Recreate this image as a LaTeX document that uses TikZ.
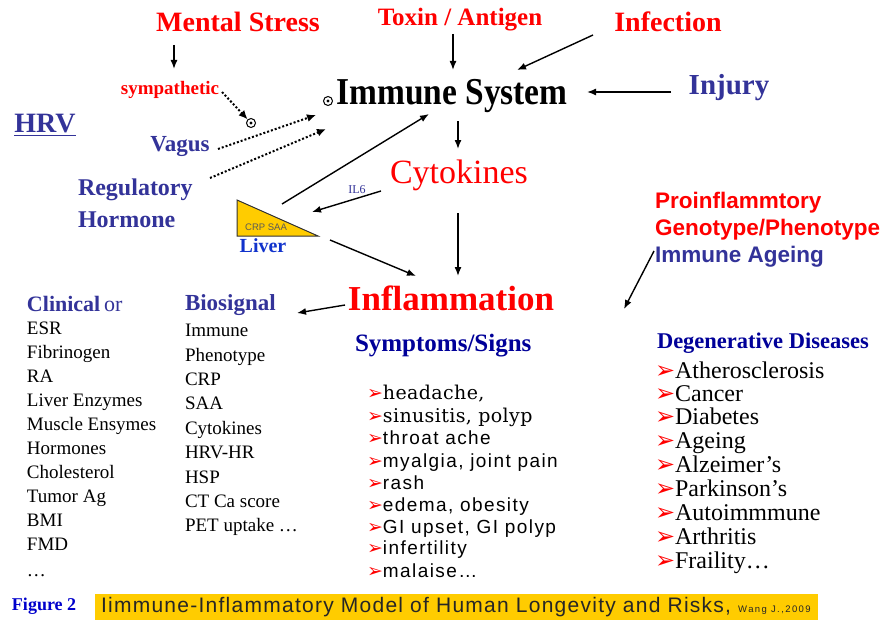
\documentclass[tikz,border=0pt]{standalone}
\usepackage{fontspec}
\usepackage{graphicx}
\setmainfont{Liberation Serif}
\newfontfamily\sansf{Liberation Sans}
\newfontfamily\sanssp[LetterSpace=7.5]{Liberation Sans}
\newfontfamily\serifsp[LetterSpace=2]{DejaVu Serif}
\newfontfamily\capf[LetterSpace=6]{Liberation Sans}
\newfontfamily\tinyf[LetterSpace=15]{Liberation Sans}
\newfontfamily\djsans{DejaVu Sans}
\usetikzlibrary{arrows.meta}
\definecolor{myred}{HTML}{FF0000}
\definecolor{myblue}{HTML}{333399}
\definecolor{dkblue}{HTML}{000099}
\definecolor{livblue}{HTML}{1133CC}
\definecolor{figblue}{HTML}{0000CC}
\definecolor{ylw}{HTML}{FFCC00}
\newcommand{\fs}[1]{\fontsize{#1}{#1}\selectfont}
\newcommand{\bul}{{\djsans\color{myred}➢}}
\begin{document}
\begin{tikzpicture}[x=1pt,y=-1pt,
  lbl/.style={inner sep=0pt, outer sep=1pt},
  arr/.style={-{Latex[length=9pt,width=7pt]}, line width=1.4pt},
  dotarr/.style={dotted, line width=2pt, -{Latex[length=9pt,width=8pt]}},
  redh/.style={lbl, text=myred, font=\bfseries\fs{28}},
  blueh/.style={lbl, text=myblue, font=\bfseries\fs{23}},
  item/.style={lbl, anchor=west, font=\fs{19}, text height=13pt, text depth=4pt},
  sym/.style={lbl, anchor=west, font=\sanssp\fs{19}, text height=14pt, text depth=4pt},
  symr/.style={lbl, anchor=west, font=\serifsp\fs{19}, text height=14pt, text depth=4pt},
  deg/.style={lbl, anchor=west, font=\fs{24}, text height=16pt, text depth=5pt},
  odot/.style={circle, draw, line width=1pt, inner sep=0pt, minimum size=9pt}
]
\useasboundingbox (0,0) rectangle (885,623);
\fill[white] (0,0) rectangle (885,623);

% top sources
\node[redh] (ms) at (238,22) {Mental Stress};
\node[redh, font=\bfseries\fs{25}] (tox) at (460,20) {Toxin / Antigen};
\node[redh] (inf) at (668,22) {Infection};
\node[lbl, font=\bfseries\fs{38}] (imm) at (452,96) {\scalebox{0.88}[1]{Immune System}};
\node[odot] (od1) at (328,101) {};
\fill (od1.center) circle (1.6pt);
\node[blueh, font=\bfseries\fs{29}] (inj) at (729,88) {Injury};
\node[blueh, font=\bfseries\fs{28}] (hrv) at (45,125) {\underline{HRV}};

\node[lbl, text=myred, font=\bfseries\fs{19}] (symp) at (170,90) {sympathetic};
\node[odot] (od2) at (251,123) {};
\fill (od2.center) circle (1.6pt);
\node[blueh] (vag) at (180,147) {Vagus};
\node[lbl, text=myblue, font=\bfseries\fs{24}, anchor=west] (reg1) at (77,190) {Regulatory};
\node[lbl, text=myblue, font=\bfseries\fs{24}, anchor=west] (reg2) at (77,220) {Hormone};

\node[lbl, text=myred, font=\fs{34}] (cyto) at (459,175) {Cytokines};
\node[lbl, text=myblue, font=\fs{12}] (il6) at (357,190) {IL6};

% liver
\draw[fill=ylw, draw=black!80, line width=1pt] (237,200) -- (237,236) -- (318,236) -- cycle;
\node[lbl, font=\sansf\fs{9.5}, text=black!65] (crp) at (266,227) {CRP SAA};
\coordinate (livtop) at (282,204);
\coordinate (livin) at (312,212);
\coordinate (livout) at (330,240);
\node[lbl, text=livblue, font=\bfseries\fs{20}] (liver) at (263,246) {Liver};

\node[lbl, text=myred, font=\bfseries\fs{35}] (infl) at (451,298) {Inflammation};

\node[lbl, text=myred, font=\sansf\bfseries\fs{22.5}, anchor=west] (pro1) at (654,203) {Proinflammtory};
\node[lbl, text=myred, font=\sansf\bfseries\fs{22.5}, anchor=west] (pro2) at (654,230) {Genotype/Phenotype};
\node[lbl, text=myblue, font=\sansf\bfseries\fs{22.5}, anchor=west] (age) at (654,257) {Immune Ageing};

% clinical
\node[lbl, anchor=west, text=myblue, font=\fs{22}] (clin) at (26,304) {\textbf{Clinical}\,or};
\node[item] (c1) at (26,330) {ESR};
\node[item] (c2) at (26,354) {Fibrinogen};
\node[item] (c3) at (26,378) {RA};
\node[item] (c4) at (26,402) {Liver Enzymes};
\node[item] (c5) at (26,426) {Muscle Ensymes};
\node[item] (c6) at (26,450) {Hormones};
\node[item] (c7) at (26,474) {Cholesterol};
\node[item] (c8) at (26,498) {Tumor Ag};
\node[item] (c9) at (26,522) {BMI};
\node[item] (c10) at (26,546) {FMD};
\node[item] (c11) at (26,572) {\dots};

% biosignal
\node[lbl, anchor=west, text=myblue, font=\bfseries\fs{23}] (bio) at (184,305) {Biosignal};
\node[item] (b1) at (184,332) {Immune};
\node[item] (b2) at (184,357) {Phenotype};
\node[item] (b3) at (184,381) {CRP};
\node[item] (b4) at (184,405) {SAA};
\node[item] (b5) at (184,430) {Cytokines};
\node[item] (b6) at (184,454) {HRV-HR};
\node[item] (b7) at (184,479) {HSP};
\node[item] (b8) at (184,503) {CT Ca score};
\node[item] (b9) at (184,527) {PET uptake \dots};

% symptoms
\node[lbl, anchor=west, text=dkblue, font=\bfseries\fs{25}] (sy) at (354,346) {Symptoms/Signs};
\node[symr] (s1) at (366,394) {\bul headache,};
\node[symr] (s2) at (366,417) {\bul sinusitis, polyp};
\node[sym] (s3) at (366,439) {\bul throat ache};
\node[sym] (s4) at (366,462) {\bul myalgia, joint pain};
\node[sym] (s5) at (366,484) {\bul rash};
\node[sym] (s6) at (366,506) {\bul edema, obesity};
\node[sym] (s7) at (366,528) {\bul GI upset, GI polyp};
\node[sym] (s8) at (366,549) {\bul infertility};
\node[sym] (s9) at (366,572) {\bul malaise\dots};

% degenerative
\node[lbl, anchor=west, text=dkblue, font=\bfseries\fs{22.5}] (dg) at (656,343) {Degenerative Diseases};
\node[deg] (d1) at (654,373) {\bul Atherosclerosis};
\node[deg] (d2) at (654,396) {\bul Cancer};
\node[deg] (d3) at (654,419) {\bul Diabetes};
\node[deg] (d4) at (654,443) {\bul Ageing};
\node[deg] (d5) at (654,467) {\bul Alzeimer's};
\node[deg] (d6) at (654,491) {\bul Parkinson's};
\node[deg] (d7) at (654,515) {\bul Autoimmmune};
\node[deg] (d8) at (654,539) {\bul Arthritis};
\node[deg] (d9) at (654,563) {\bul Fraility\dots};

% caption
\node[lbl, anchor=west, text=figblue, font=\bfseries\fs{18}] (fig) at (11,606) {Figure 2};
\fill[ylw] (95,594) rectangle (818,620);
\node[lbl, anchor=west, font=\capf\fs{21}, text=black!85] (cap) at (100,607) {Iimmune-Inflammatory Model of Human Longevity and Risks, {\tinyf\fs{9.5}Wang J.,2009}};

% arrows
\coordinate (a1) at (174,45); \coordinate (a1e) at (174,69);
\draw[arr] (a1) -- (a1e);
\coordinate (sy1) at (222,92);
\draw[dotarr] (sy1) -- (od2);
\coordinate (vg1) at (218,149); \coordinate (vg2) at (316,115);
\draw[dotarr] (vg1) -- (vg2);
\coordinate (rg1) at (210,178); \coordinate (rg2) at (326,129);
\draw[dotarr] (rg1) -- (rg2);
\coordinate (tx1) at (453,34); \coordinate (tx2) at (453,70);
\draw[arr] (tx1) -- (tx2);
\coordinate (if1) at (593,35); \coordinate (if2) at (517,70);
\draw[arr] (if1) -- (if2);
\coordinate (ij1) at (671,92); \coordinate (ij2) at (587,92);
\draw[arr] (ij1) -- (ij2);
\coordinate (ic1) at (458,121); \coordinate (ic2) at (458,149);
\draw[arr] (ic1) -- (ic2);
\coordinate (li2) at (429,114);
\draw[arr] (livtop) -- (li2);
\coordinate (il1) at (381,191);
\draw[arr] (il1) -- (livin);
\coordinate (lf2) at (416,276);
\draw[arr] (livout) -- (lf2);
\coordinate (cf1) at (458,213); \coordinate (cf2) at (458,276);
\draw[arr] (cf1) -- (cf2);
\coordinate (fb1) at (345,305); \coordinate (fb2) at (297,313);
\draw[arr] (fb1) -- (fb2);
\coordinate (ag1) at (654,251); \coordinate (ag2) at (624,309);
\draw[arr] (ag1) -- (ag2);
\end{tikzpicture}
\end{document}
